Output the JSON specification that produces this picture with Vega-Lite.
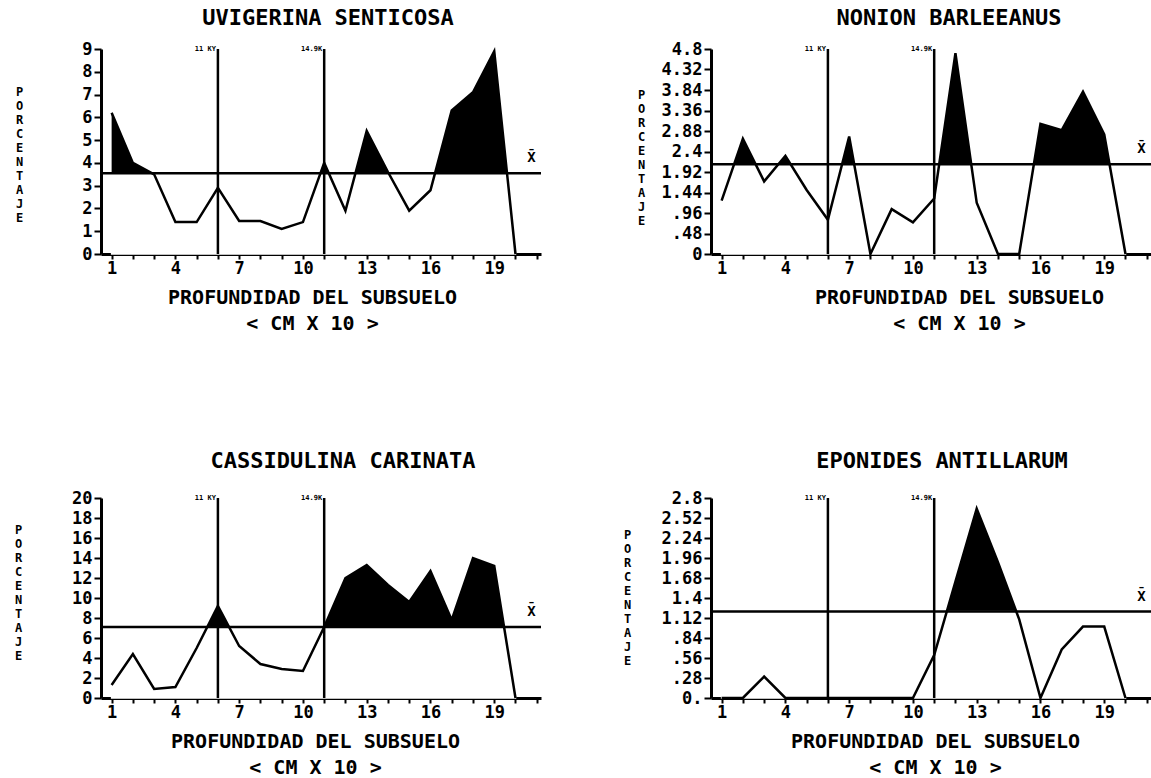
{
  "$schema": "https://vega.github.io/schema/vega-lite/v6.json",
  "padding": {"left": 14, "top": 7, "right": 0, "bottom": 0},
  "background": "white",
  "datasets": {
    "series": [
      {"panel": "uvi", "x": 1, "v": 6.2}, {"panel": "uvi", "x": 2, "v": 4.0}, {"panel": "uvi", "x": 3, "v": 3.5}, {"panel": "uvi", "x": 4, "v": 1.4}, {"panel": "uvi", "x": 5, "v": 1.4},
      {"panel": "uvi", "x": 6, "v": 2.9}, {"panel": "uvi", "x": 7, "v": 1.45}, {"panel": "uvi", "x": 8, "v": 1.45}, {"panel": "uvi", "x": 9, "v": 1.1}, {"panel": "uvi", "x": 10, "v": 1.4},
      {"panel": "uvi", "x": 11, "v": 4.0}, {"panel": "uvi", "x": 12, "v": 1.9}, {"panel": "uvi", "x": 13, "v": 5.4}, {"panel": "uvi", "x": 14, "v": 3.6}, {"panel": "uvi", "x": 15, "v": 1.9},
      {"panel": "uvi", "x": 16, "v": 2.8}, {"panel": "uvi", "x": 17, "v": 6.3}, {"panel": "uvi", "x": 18, "v": 7.1}, {"panel": "uvi", "x": 19, "v": 8.9}, {"panel": "uvi", "x": 20, "v": 0},
      {"panel": "non", "x": 1, "v": 1.25}, {"panel": "non", "x": 2, "v": 2.7}, {"panel": "non", "x": 3, "v": 1.7}, {"panel": "non", "x": 4, "v": 2.3}, {"panel": "non", "x": 5, "v": 1.5},
      {"panel": "non", "x": 6, "v": 0.8}, {"panel": "non", "x": 7, "v": 2.75}, {"panel": "non", "x": 8, "v": 0}, {"panel": "non", "x": 9, "v": 1.05}, {"panel": "non", "x": 10, "v": 0.74},
      {"panel": "non", "x": 11, "v": 1.3}, {"panel": "non", "x": 12, "v": 4.7}, {"panel": "non", "x": 13, "v": 1.2}, {"panel": "non", "x": 14, "v": 0}, {"panel": "non", "x": 15, "v": 0},
      {"panel": "non", "x": 16, "v": 3.05}, {"panel": "non", "x": 17, "v": 2.9}, {"panel": "non", "x": 18, "v": 3.8}, {"panel": "non", "x": 19, "v": 2.8}, {"panel": "non", "x": 20, "v": 0},
      {"panel": "cas", "x": 1, "v": 1.3}, {"panel": "cas", "x": 2, "v": 4.4}, {"panel": "cas", "x": 3, "v": 0.9}, {"panel": "cas", "x": 4, "v": 1.1}, {"panel": "cas", "x": 5, "v": 5.0},
      {"panel": "cas", "x": 6, "v": 9.2}, {"panel": "cas", "x": 7, "v": 5.2}, {"panel": "cas", "x": 8, "v": 3.4}, {"panel": "cas", "x": 9, "v": 2.9}, {"panel": "cas", "x": 10, "v": 2.7},
      {"panel": "cas", "x": 11, "v": 7.1}, {"panel": "cas", "x": 12, "v": 12.0}, {"panel": "cas", "x": 13, "v": 13.3}, {"panel": "cas", "x": 14, "v": 11.3}, {"panel": "cas", "x": 15, "v": 9.6},
      {"panel": "cas", "x": 16, "v": 12.7}, {"panel": "cas", "x": 17, "v": 7.8}, {"panel": "cas", "x": 18, "v": 14.0}, {"panel": "cas", "x": 19, "v": 13.2}, {"panel": "cas", "x": 20, "v": 0},
      {"panel": "epo", "x": 1, "v": 0}, {"panel": "epo", "x": 2, "v": 0}, {"panel": "epo", "x": 3, "v": 0.3}, {"panel": "epo", "x": 4, "v": 0}, {"panel": "epo", "x": 5, "v": 0},
      {"panel": "epo", "x": 6, "v": 0}, {"panel": "epo", "x": 7, "v": 0}, {"panel": "epo", "x": 8, "v": 0}, {"panel": "epo", "x": 9, "v": 0}, {"panel": "epo", "x": 10, "v": 0},
      {"panel": "epo", "x": 11, "v": 0.6}, {"panel": "epo", "x": 12, "v": 1.63}, {"panel": "epo", "x": 13, "v": 2.65}, {"panel": "epo", "x": 14, "v": 1.9}, {"panel": "epo", "x": 15, "v": 1.1},
      {"panel": "epo", "x": 16, "v": 0}, {"panel": "epo", "x": 17, "v": 0.68}, {"panel": "epo", "x": 18, "v": 1.0}, {"panel": "epo", "x": 19, "v": 1.0}, {"panel": "epo", "x": 20, "v": 0}
    ],
    "means": [
      {"panel": "uvi", "mean": 3.55, "sym": "X̄"},
      {"panel": "non", "mean": 2.1, "sym": "X̄"},
      {"panel": "cas", "mean": 7.1, "sym": "X̄"},
      {"panel": "epo", "mean": 1.21, "sym": "X̄"}
    ],
    "events": [
      {"ex": 6, "label": "11 KY"},
      {"ex": 11, "label": "14.9K"}
    ]
  },
  "columns": 2,
  "spacing": {"row": 244, "column": 170},
  "bounds": "flush",
  "concat": [
    {
      "width": 440, "height": 205,
      "title": {"text": "UVIGERINA SENTICOSA", "dx": 7, "offset": 10},
      "layer": [
        {"data": {"name": "series"}, "transform": [{"filter": "datum.panel==='uvi'"}], "mark": {"type": "area", "color": "black"},
         "encoding": {
           "x": {"field": "x", "type": "quantitative", "scale": {"domain": [0.5, 21.2], "nice": false, "zero": false},
                 "axis": {"values": [1,2,3,4,5,6,7,8,9,10,11,12,13,14,15,16,17,18,19,20,21], "tickCount": 50, "labelExpr": "(datum.value-1)%3===0 ? format(datum.value, 'd') : ''", "labelOverlap": false,
                          "title": ["PROFUNDIDAD DEL SUBSUELO", "< CM X 10 >"], "titleX": 211, "titleY": 33}},
           "y": {"field": "v", "type": "quantitative", "scale": {"domain": [0, 9], "nice": false},
                 "axis": {"values": [0,1,2,3,4,5,6,7,8,9], "tickCount": 50, "format": "d", "labelOverlap": false, "title": ["P","O","R","C","E","N","T","A","J","E"], "titleX": -82, "titleY": 37}}
         }},
        {"data": {"name": "series"}, "transform": [{"filter": "datum.panel==='uvi'"}, {"lookup": "panel", "from": {"data": {"name": "means"}, "key": "panel", "fields": ["mean"]}}],
         "mark": {"type": "area", "color": "white", "stroke": "white", "strokeWidth": 1.5},
         "encoding": {"x": {"field": "x", "type": "quantitative"}, "y": {"field": "mean", "type": "quantitative"}}},
        {"data": {"name": "series"}, "transform": [{"filter": "datum.panel==='uvi'"}], "mark": {"type": "line", "color": "black", "strokeWidth": 2.5},
         "encoding": {"x": {"field": "x", "type": "quantitative"}, "y": {"field": "v", "type": "quantitative"}}},
        {"data": {"name": "means"}, "transform": [{"filter": "datum.panel==='uvi'"}], "mark": {"type": "rule", "color": "black", "strokeWidth": 2.5},
         "encoding": {"y": {"field": "mean", "type": "quantitative"}}},
        {"data": {"name": "events"}, "mark": {"type": "rule", "color": "black", "strokeWidth": 2.5},
         "encoding": {"x": {"field": "ex", "type": "quantitative"}}},
        {"data": {"name": "events"}, "mark": {"type": "text", "align": "right", "baseline": "middle", "dx": -2, "fontSize": 7, "fontWeight": "bold", "font": "DejaVu Sans Mono", "color": "black"},
         "encoding": {"x": {"field": "ex", "type": "quantitative"}, "y": {"datum": 9, "type": "quantitative"}, "text": {"field": "label", "type": "nominal"}}},
        {"data": {"name": "means"}, "transform": [{"filter": "datum.panel==='uvi'"}], "mark": {"type": "text", "align": "center", "baseline": "middle", "dy": -15, "fontSize": 14, "fontWeight": "bold", "font": "DejaVu Sans Mono", "color": "black"},
         "encoding": {"x": {"datum": 20.75, "type": "quantitative"}, "y": {"field": "mean", "type": "quantitative"}, "text": {"field": "sym", "type": "nominal"}}}
      ]
    },
    {
      "width": 440, "height": 205,
      "title": {"text": "NONION BARLEEANUS", "dx": 18, "offset": 10},
      "layer": [
        {"data": {"name": "series"}, "transform": [{"filter": "datum.panel==='non'"}], "mark": {"type": "area", "color": "black"},
         "encoding": {
           "x": {"field": "x", "type": "quantitative", "scale": {"domain": [0.5, 21.2], "nice": false, "zero": false},
                 "axis": {"values": [1,2,3,4,5,6,7,8,9,10,11,12,13,14,15,16,17,18,19,20,21], "tickCount": 50, "labelExpr": "(datum.value-1)%3===0 ? format(datum.value, 'd') : ''", "labelOverlap": false,
                          "title": ["PROFUNDIDAD DEL SUBSUELO", "< CM X 10 >"], "titleX": 248, "titleY": 33}},
           "y": {"field": "v", "type": "quantitative", "scale": {"domain": [0, 4.8], "nice": false},
                 "axis": {"values": [0,0.48,0.96,1.44,1.92,2.4,2.88,3.36,3.84,4.32,4.8], "tickCount": 50, "labelOverlap": false,
                          "labelExpr": "datum.value > 0 && datum.value < 1 ? slice(format(datum.value, '.2~f'), 1) : format(datum.value, '.2~f')",
                          "title": ["P","O","R","C","E","N","T","A","J","E"], "titleX": -70, "titleY": 40}}
         }},
        {"data": {"name": "series"}, "transform": [{"filter": "datum.panel==='non'"}, {"lookup": "panel", "from": {"data": {"name": "means"}, "key": "panel", "fields": ["mean"]}}],
         "mark": {"type": "area", "color": "white", "stroke": "white", "strokeWidth": 1.5},
         "encoding": {"x": {"field": "x", "type": "quantitative"}, "y": {"field": "mean", "type": "quantitative"}}},
        {"data": {"name": "series"}, "transform": [{"filter": "datum.panel==='non'"}], "mark": {"type": "line", "color": "black", "strokeWidth": 2.5},
         "encoding": {"x": {"field": "x", "type": "quantitative"}, "y": {"field": "v", "type": "quantitative"}}},
        {"data": {"name": "means"}, "transform": [{"filter": "datum.panel==='non'"}], "mark": {"type": "rule", "color": "black", "strokeWidth": 2.5},
         "encoding": {"y": {"field": "mean", "type": "quantitative"}}},
        {"data": {"name": "events"}, "mark": {"type": "rule", "color": "black", "strokeWidth": 2.5},
         "encoding": {"x": {"field": "ex", "type": "quantitative"}}},
        {"data": {"name": "events"}, "mark": {"type": "text", "align": "right", "baseline": "middle", "dx": -2, "fontSize": 7, "fontWeight": "bold", "font": "DejaVu Sans Mono", "color": "black"},
         "encoding": {"x": {"field": "ex", "type": "quantitative"}, "y": {"datum": 4.8, "type": "quantitative"}, "text": {"field": "label", "type": "nominal"}}},
        {"data": {"name": "means"}, "transform": [{"filter": "datum.panel==='non'"}], "mark": {"type": "text", "align": "center", "baseline": "middle", "dy": -15, "fontSize": 14, "fontWeight": "bold", "font": "DejaVu Sans Mono", "color": "black"},
         "encoding": {"x": {"datum": 20.75, "type": "quantitative"}, "y": {"field": "mean", "type": "quantitative"}, "text": {"field": "sym", "type": "nominal"}}}
      ]
    },
    {
      "width": 440, "height": 200,
      "title": {"text": "CASSIDULINA CARINATA", "dx": 22, "offset": 16},
      "layer": [
        {"data": {"name": "series"}, "transform": [{"filter": "datum.panel==='cas'"}], "mark": {"type": "area", "color": "black"},
         "encoding": {
           "x": {"field": "x", "type": "quantitative", "scale": {"domain": [0.5, 21.2], "nice": false, "zero": false},
                 "axis": {"values": [1,2,3,4,5,6,7,8,9,10,11,12,13,14,15,16,17,18,19,20,21], "tickCount": 50, "labelExpr": "(datum.value-1)%3===0 ? format(datum.value, 'd') : ''", "labelOverlap": false,
                          "title": ["PROFUNDIDAD DEL SUBSUELO", "< CM X 10 >"], "titleX": 214, "titleY": 33}},
           "y": {"field": "v", "type": "quantitative", "scale": {"domain": [0, 20], "nice": false},
                 "axis": {"values": [0,2,4,6,8,10,12,14,16,18,20], "tickCount": 50, "format": "d", "labelOverlap": false, "title": ["P","O","R","C","E","N","T","A","J","E"], "titleX": -83, "titleY": 26}}
         }},
        {"data": {"name": "series"}, "transform": [{"filter": "datum.panel==='cas'"}, {"lookup": "panel", "from": {"data": {"name": "means"}, "key": "panel", "fields": ["mean"]}}],
         "mark": {"type": "area", "color": "white", "stroke": "white", "strokeWidth": 1.5},
         "encoding": {"x": {"field": "x", "type": "quantitative"}, "y": {"field": "mean", "type": "quantitative"}}},
        {"data": {"name": "series"}, "transform": [{"filter": "datum.panel==='cas'"}], "mark": {"type": "line", "color": "black", "strokeWidth": 2.5},
         "encoding": {"x": {"field": "x", "type": "quantitative"}, "y": {"field": "v", "type": "quantitative"}}},
        {"data": {"name": "means"}, "transform": [{"filter": "datum.panel==='cas'"}], "mark": {"type": "rule", "color": "black", "strokeWidth": 2.5},
         "encoding": {"y": {"field": "mean", "type": "quantitative"}}},
        {"data": {"name": "events"}, "mark": {"type": "rule", "color": "black", "strokeWidth": 2.5},
         "encoding": {"x": {"field": "ex", "type": "quantitative"}}},
        {"data": {"name": "events"}, "mark": {"type": "text", "align": "right", "baseline": "middle", "dx": -2, "fontSize": 7, "fontWeight": "bold", "font": "DejaVu Sans Mono", "color": "black"},
         "encoding": {"x": {"field": "ex", "type": "quantitative"}, "y": {"datum": 20, "type": "quantitative"}, "text": {"field": "label", "type": "nominal"}}},
        {"data": {"name": "means"}, "transform": [{"filter": "datum.panel==='cas'"}], "mark": {"type": "text", "align": "center", "baseline": "middle", "dy": -15, "fontSize": 14, "fontWeight": "bold", "font": "DejaVu Sans Mono", "color": "black"},
         "encoding": {"x": {"datum": 20.75, "type": "quantitative"}, "y": {"field": "mean", "type": "quantitative"}, "text": {"field": "sym", "type": "nominal"}}}
      ]
    },
    {
      "width": 440, "height": 200,
      "title": {"text": "EPONIDES ANTILLARUM", "dx": 11, "offset": 16},
      "layer": [
        {"data": {"name": "series"}, "transform": [{"filter": "datum.panel==='epo'"}], "mark": {"type": "area", "color": "black"},
         "encoding": {
           "x": {"field": "x", "type": "quantitative", "scale": {"domain": [0.5, 21.2], "nice": false, "zero": false},
                 "axis": {"values": [1,2,3,4,5,6,7,8,9,10,11,12,13,14,15,16,17,18,19,20,21], "tickCount": 50, "labelExpr": "(datum.value-1)%3===0 ? format(datum.value, 'd') : ''", "labelOverlap": false,
                          "title": ["PROFUNDIDAD DEL SUBSUELO", "< CM X 10 >"], "titleX": 224, "titleY": 33}},
           "y": {"field": "v", "type": "quantitative", "scale": {"domain": [0, 2.8], "nice": false},
                 "axis": {"values": [0,0.28,0.56,0.84,1.12,1.4,1.68,1.96,2.24,2.52,2.8], "tickCount": 50, "labelOverlap": false,
                          "labelExpr": "datum.value === 0 ? '0.' : (datum.value < 1 ? slice(format(datum.value, '.2~f'), 1) : format(datum.value, '.2~f'))",
                          "title": ["P","O","R","C","E","N","T","A","J","E"], "titleX": -84, "titleY": 31}}
         }},
        {"data": {"name": "series"}, "transform": [{"filter": "datum.panel==='epo'"}, {"lookup": "panel", "from": {"data": {"name": "means"}, "key": "panel", "fields": ["mean"]}}],
         "mark": {"type": "area", "color": "white", "stroke": "white", "strokeWidth": 1.5},
         "encoding": {"x": {"field": "x", "type": "quantitative"}, "y": {"field": "mean", "type": "quantitative"}}},
        {"data": {"name": "series"}, "transform": [{"filter": "datum.panel==='epo'"}], "mark": {"type": "line", "color": "black", "strokeWidth": 2.5},
         "encoding": {"x": {"field": "x", "type": "quantitative"}, "y": {"field": "v", "type": "quantitative"}}},
        {"data": {"name": "means"}, "transform": [{"filter": "datum.panel==='epo'"}], "mark": {"type": "rule", "color": "black", "strokeWidth": 2.5},
         "encoding": {"y": {"field": "mean", "type": "quantitative"}}},
        {"data": {"name": "events"}, "mark": {"type": "rule", "color": "black", "strokeWidth": 2.5},
         "encoding": {"x": {"field": "ex", "type": "quantitative"}}},
        {"data": {"name": "events"}, "mark": {"type": "text", "align": "right", "baseline": "middle", "dx": -2, "fontSize": 7, "fontWeight": "bold", "font": "DejaVu Sans Mono", "color": "black"},
         "encoding": {"x": {"field": "ex", "type": "quantitative"}, "y": {"datum": 2.8, "type": "quantitative"}, "text": {"field": "label", "type": "nominal"}}},
        {"data": {"name": "means"}, "transform": [{"filter": "datum.panel==='epo'"}], "mark": {"type": "text", "align": "center", "baseline": "middle", "dy": -15, "fontSize": 14, "fontWeight": "bold", "font": "DejaVu Sans Mono", "color": "black"},
         "encoding": {"x": {"datum": 20.75, "type": "quantitative"}, "y": {"field": "mean", "type": "quantitative"}, "text": {"field": "sym", "type": "nominal"}}}
      ]
    }
  ],
  "config": {
    "view": {"stroke": null},
    "font": "DejaVu Sans Mono",
    "axis": {"domainColor": "black", "domainWidth": 3, "tickColor": "black", "tickWidth": 2,
             "labelFont": "DejaVu Sans Mono", "labelFontWeight": "bold", "labelFontSize": 17, "labelColor": "black",
             "titleFont": "DejaVu Sans Mono", "titleFontWeight": "bold", "titleColor": "black",
             "grid": false, "zindex": 1, "labelFlush": false, "labelOverlap": false},
    "axisX": {"tickSize": 5, "labelPadding": 1, "titleFontSize": 20, "titleLineHeight": 26, "titleBaseline": "top", "titleAlign": "center", "titleAngle": 0},
    "axisY": {"tickSize": 7, "labelPadding": 2, "titleFontSize": 12, "titleLineHeight": 14, "titleAngle": 0, "titleAlign": "center", "titleBaseline": "top"},
    "title": {"font": "DejaVu Sans Mono", "fontSize": 22, "fontWeight": "bold", "color": "black", "frame": "group", "anchor": "middle"}
  }
}
